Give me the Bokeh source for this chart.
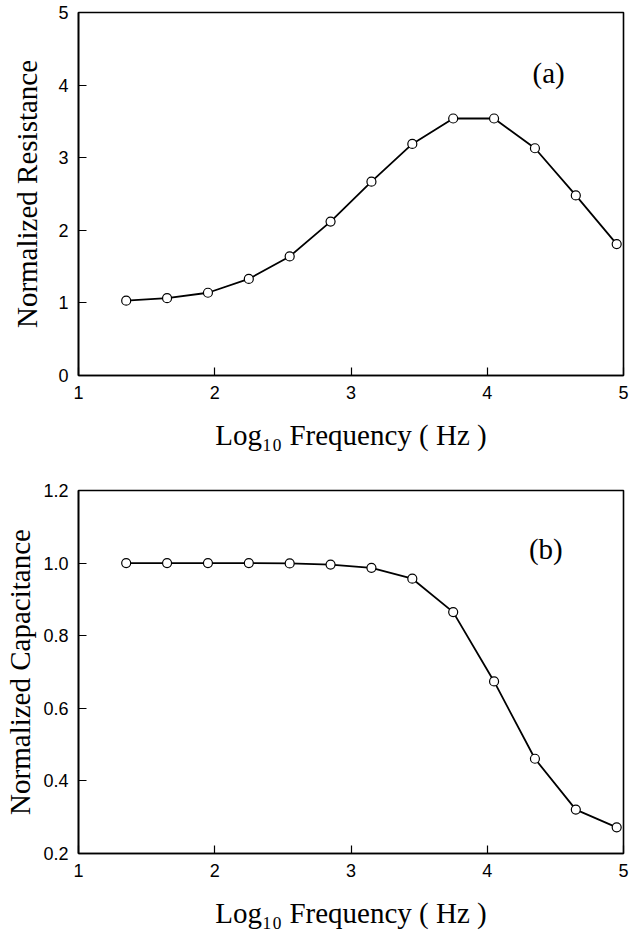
from bokeh.plotting import figure
from bokeh.layouts import column
from bokeh.models import Range1d, FixedTicker, PrintfTickFormatter, Label
from bokeh.embed import file_html
from bokeh.resources import INLINE

# ---- data ----
log_freq = [1.35, 1.65, 1.95, 2.25, 2.55, 2.85, 3.15, 3.45, 3.75, 4.05, 4.35, 4.65, 4.95]
resistance = [1.03, 1.065, 1.14, 1.33, 1.64, 2.12, 2.67, 3.19, 3.54, 3.54, 3.13, 2.48, 1.81]
capacitance = [1.0, 1.0, 1.0, 1.0, 0.999, 0.996, 0.987, 0.957, 0.865, 0.674, 0.461, 0.321, 0.272]

x_ticks = [1, 2, 3, 4, 5]
res_ticks = [0, 1, 2, 3, 4, 5]
cap_ticks = [0.2, 0.4, 0.6, 0.8, 1.0, 1.2]

x_label = "Log\u2081\u2080 Frequency ( Hz )"
res_label = "Normalized Resistance"
cap_label = "Normalized Capacitance"

SERIF = "Liberation Serif"
SANS = "Liberation Sans"


def make_panel(yvals, yrange, yticks, ylabel, tag, tag_pos, height,
               border_top, border_bottom, ylabel_standoff, fmt):
    p = figure(width=635, height=height, output_backend="svg", toolbar_location=None,
               x_range=Range1d(1, 5), y_range=Range1d(*yrange),
               min_border_left=78, min_border_right=12,
               min_border_top=border_top, min_border_bottom=border_bottom)
    p.background_fill_color = "white"
    p.border_fill_color = "white"
    p.outline_line_color = "black"
    p.outline_line_width = 1.6
    p.xgrid.visible = False
    p.ygrid.visible = False

    p.line(log_freq, yvals, line_color="black", line_width=1.8)
    p.scatter(log_freq, yvals, size=9, marker="circle", fill_color="white",
              line_color="black", line_width=1.2)

    for ax in (p.xaxis[0], p.yaxis[0]):
        ax.axis_line_color = "black"
        ax.axis_line_width = 1.6
        ax.major_tick_in = 8
        ax.major_tick_out = 0
        ax.major_tick_line_color = "black"
        ax.major_tick_line_width = 1.2
        ax.minor_tick_line_color = None
        ax.major_label_text_font = SANS
        ax.major_label_text_font_size = "18px"
        ax.major_label_text_color = "black"
        ax.axis_label_text_font = SERIF
        ax.axis_label_text_font_style = "normal"
        ax.axis_label_text_font_size = "29px"
        ax.axis_label_text_color = "black"

    p.xaxis.ticker = FixedTicker(ticks=x_ticks)
    p.yaxis.ticker = FixedTicker(ticks=yticks)
    p.yaxis.formatter = PrintfTickFormatter(format=fmt)
    p.xaxis.major_label_standoff = 10
    p.yaxis.major_label_standoff = 10
    p.xaxis.axis_label = x_label
    p.yaxis.axis_label = ylabel
    p.xaxis.axis_label_standoff = 17
    p.yaxis.axis_label_standoff = ylabel_standoff

    p.add_layout(Label(x=tag_pos[0], y=tag_pos[1], text=tag, text_font=SERIF,
                       text_font_size="29px", text_align="center",
                       text_baseline="middle", text_color="black"))
    return p


p1 = make_panel(resistance, (0, 5), res_ticks, res_label, "(a)", (4.45, 4.17),
                465, 12, 90, 12, "%d")
p2 = make_panel(capacitance, (0.2, 1.2), cap_ticks, cap_label, "(b)", (4.43, 1.04),
                470, 25, 82, 4, "%.1f")

layout = column(p1, p2, spacing=0)
open("out.html", "w").write(file_html(layout, INLINE))
